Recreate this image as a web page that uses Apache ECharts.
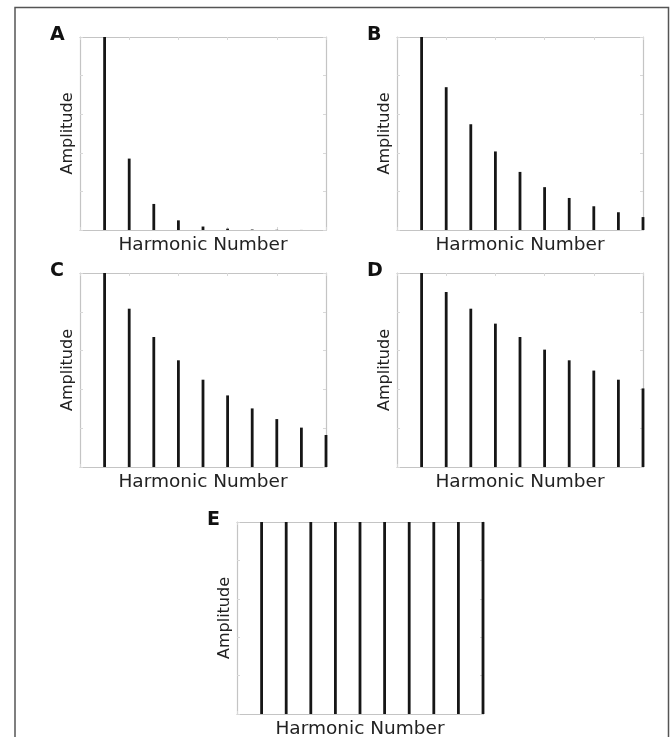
<!DOCTYPE html>
<html>
<head>
<meta charset="utf-8">
<script src="https://cdn.jsdelivr.net/npm/echarts@6/dist/echarts.min.js"></script>
<style>
  html, body { margin: 0; padding: 0; background: #fff; }
  #main { width: 671px; height: 737px; }
</style>
</head>
<body>
<div id="main"></div>
<script>
// harmonic numbers and the amplitude of each harmonic, one list per panel
var harmonics = [1, 2, 3, 4, 5, 6, 7, 8, 9, 10];
var ampA = [1, 0.37, 0.135, 0.05, 0.018, 0.007, 0.0025, 0.001, 0.0003, 0.0001];
var ampB = [1, 0.74, 0.548, 0.407, 0.301, 0.222, 0.166, 0.123, 0.092, 0.067];
var ampC = [1, 0.816, 0.67, 0.55, 0.45, 0.369, 0.302, 0.247, 0.203, 0.165];
var ampD = [1, 0.902, 0.816, 0.739, 0.67, 0.605, 0.55, 0.497, 0.45, 0.405];
var ampE = [1, 1, 1, 1, 1, 1, 1, 1, 1, 1];
var panelLabels = ['A', 'B', 'C', 'D', 'E'];
var xName = 'Harmonic Number';
var yName = 'Amplitude';

var panels = [ampA, ampB, ampC, ampD, ampE];
// plot boxes
var boxes = [
    {left: 80, top: 37, width: 246, height: 193},
    {left: 397, top: 37, width: 246, height: 193},
    {left: 80, top: 273, width: 246, height: 194},
    {left: 397, top: 273, width: 246, height: 194},
    {left: 237, top: 522, width: 246, height: 192}
];

var myChart = echarts.init(document.getElementById('main'));

var grid = [], xAxis = [], yAxis = [], series = [], title = [];
var boxLine = {show: true, onZero: false, lineStyle: {color: '#c4c4c4', width: 1.2}};
var tick = {show: true, inside: true, length: 3, lineStyle: {color: '#d8d8d8'}};

panels.forEach(function(amps, i){
    var b = boxes[i];
    grid.push({left: b.left, top: b.top, width: b.width, height: b.height, outerBoundsMode: 'none'});
    // bottom and top x axes
    ['bottom', 'top'].forEach(function(pos){
        xAxis.push({
            type: 'value', gridIndex: i, position: pos,
            min: 0, max: 10, interval: 2,
            axisLine: boxLine, axisTick: tick,
            axisLabel: {show: false}, splitLine: {show: false},
            name: pos === 'bottom' ? xName : '',
            nameLocation: 'middle', nameGap: 6,
            nameTextStyle: {fontFamily: 'DejaVu Sans', fontSize: 18.5, color: '#222'}
        });
    });
    // left and right y axes
    ['left', 'right'].forEach(function(pos){
        yAxis.push({
            type: 'value', gridIndex: i, position: pos,
            min: 0, max: 1, interval: 0.2,
            axisLine: boxLine, axisTick: tick,
            axisLabel: {show: false}, splitLine: {show: false},
            name: pos === 'left' ? yName : '',
            nameLocation: 'middle', nameGap: 4, nameRotate: 90,
            nameTextStyle: {fontFamily: 'DejaVu Sans', fontSize: 16, color: '#222'}
        });
    });
    series.push({
        type: 'bar',
        xAxisIndex: 2 * i, yAxisIndex: 2 * i,
        barWidth: 2.8,
        clip: false,
        itemStyle: {color: '#161616'},
        data: harmonics.map(function(h, j){ return [h, amps[j]]; })
    });
    title.push({
        text: panelLabels[i],
        left: b.left - 30, top: b.top - 11, padding: 0,
        textStyle: {fontFamily: 'DejaVu Sans', fontWeight: 'bold', fontSize: 19, color: '#111'}
    });
});

var option = {
    animation: false,
    backgroundColor: '#fff',
    title: title,
    grid: grid,
    xAxis: xAxis,
    yAxis: yAxis,
    series: series,
    graphic: [{
        // outer figure frame
        type: 'polyline',
        shape: {points: [[15, 740], [15, 7.5], [668.5, 7.5], [668.5, 740]]},
        style: {stroke: '#555', lineWidth: 1.5, fill: null}
    }]
};
myChart.setOption(option);
</script>
</body>
</html>
